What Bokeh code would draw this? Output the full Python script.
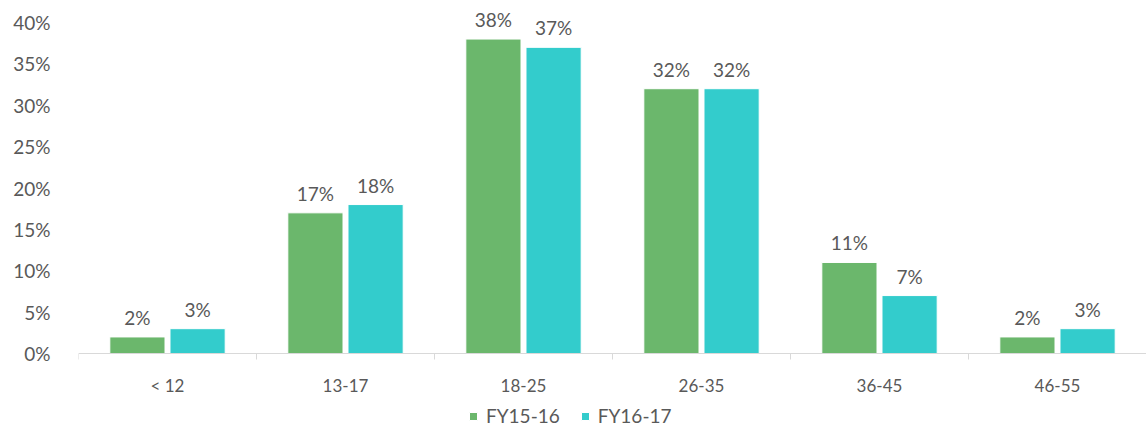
from bokeh.plotting import figure
from bokeh.models import (ColumnDataSource, FixedTicker, Range1d, Legend, LegendItem,
                          LabelSet, Span)
from bokeh.core.properties import value
from bokeh.embed import file_html
from bokeh.resources import INLINE

categories = ["< 12", "13-17", "18-25", "26-35", "36-45", "46-55"]
fy1516 = [2, 17, 38, 32, 11, 2]
fy1617 = [3, 18, 37, 32, 7, 3]
series_names = ["FY15-16", "FY16-17"]
y_ticks = [0, 5, 10, 15, 20, 25, 30, 35, 40]

GREEN = "#6BB76C"
CYAN = "#33CCCC"
TXT = "#595959"
AXIS = "#D9D9D9"
FONT = "Lato"

n = len(categories)
centers = [i + 0.5 for i in range(n)]
bounds = list(range(n + 1))
off = 0.169
bw = 0.31

# frame covers the full page height; value 0 sits 79 px above the bottom
px_per_unit = 353 / 42.66
y_lo = -79 / px_per_unit
tick_len = 6 / px_per_unit

s1 = ColumnDataSource(dict(x=[c - off for c in centers], top=fy1516,
                           lab=[f"{v}%" for v in fy1516]))
s2 = ColumnDataSource(dict(x=[c + off for c in centers], top=fy1617,
                           lab=[f"{v}%" for v in fy1617]))
cat_src = ColumnDataSource(dict(x=centers, y=[0] * n, lab=categories))
tick_src = ColumnDataSource(dict(x=bounds, y0=[0] * len(bounds), y1=[-tick_len] * len(bounds)))

p = figure(frame_width=1068, frame_height=432, output_backend="svg", toolbar_location=None,
           x_range=Range1d(0, n), y_range=Range1d(y_lo, 42.66),
           x_axis_location=None,
           min_border_left=78, min_border_right=0, min_border_top=0,
           min_border_bottom=0)
p.outline_line_color = None
p.grid.visible = False
p.background_fill_color = "white"
p.border_fill_color = "white"

r1 = p.vbar(x="x", top="top", bottom=0, width=bw, source=s1, fill_color=GREEN,
            line_color="white", line_width=1)
r2 = p.vbar(x="x", top="top", bottom=0, width=bw, source=s2, fill_color=CYAN,
            line_color="white", line_width=1)

for s in (s1, s2):
    p.add_layout(LabelSet(x="x", y="top", text="lab", source=s, text_align="center",
                          text_baseline="bottom", y_offset=8, text_font=value(FONT),
                          text_font_size="19px", text_color=TXT))

# category axis drawn at value 0
p.add_layout(Span(location=0, dimension="width", line_color=AXIS, line_width=1))
p.segment(x0="x", y0="y0", x1="x", y1="y1", source=tick_src, line_color=AXIS, line_width=1)
p.add_layout(LabelSet(x="x", y="y", text="lab", source=cat_src, text_align="center",
                      text_baseline="middle", y_offset=-32, text_font=value(FONT),
                      text_font_size="17px", text_color=TXT))

# y axis
p.yaxis.ticker = FixedTicker(ticks=y_ticks)
p.yaxis.major_label_overrides = {t: f"{t}%" for t in y_ticks}
p.yaxis.axis_line_color = None
p.yaxis.major_tick_line_color = None
p.yaxis.minor_tick_line_color = None
p.yaxis.major_label_standoff = 22
p.yaxis.major_label_text_font = FONT
p.yaxis.major_label_text_font_size = "19px"
p.yaxis.major_label_text_color = TXT

legend = Legend(items=[LegendItem(label=series_names[0], renderers=[r1]),
                       LegendItem(label=series_names[1], renderers=[r2])],
                orientation="horizontal", location=(390, 5),
                glyph_width=10, glyph_height=10, label_height=18,
                label_text_font=FONT,
                label_text_font_size="19px", label_text_color=TXT,
                border_line_color=None, background_fill_alpha=0,
                spacing=20, padding=0, margin=0,
                label_standoff=8)
p.add_layout(legend, "center")

open("out.html", "w").write(file_html(p, INLINE))
